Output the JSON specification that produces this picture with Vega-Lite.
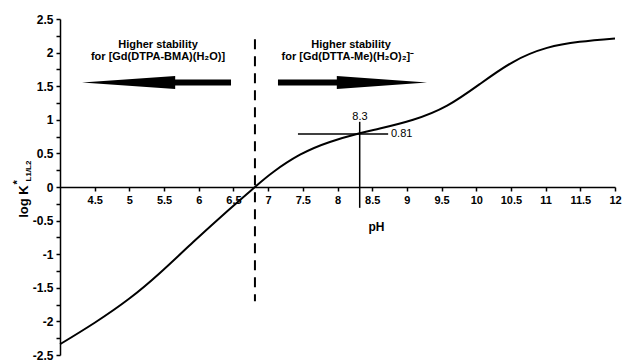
{
  "$schema": "https://vega.github.io/schema/vega-lite/v6.json",
  "autosize": "none",
  "width": 555,
  "height": 336,
  "padding": {"left": 60, "top": 19, "right": 7, "bottom": 9},
  "background": "white",
  "config": {
    "view": {"stroke": null},
    "font": "Liberation Sans"
  },
  "datasets": {
    "curve": [
      {"x": 4.0, "y": -2.34},
      {"x": 4.5, "y": -2.02},
      {"x": 5.0, "y": -1.66},
      {"x": 5.44, "y": -1.28},
      {"x": 5.92, "y": -0.82},
      {"x": 6.41, "y": -0.36},
      {"x": 6.81, "y": 0.0},
      {"x": 7.07, "y": 0.22},
      {"x": 7.46, "y": 0.48},
      {"x": 7.89, "y": 0.67},
      {"x": 8.32, "y": 0.8},
      {"x": 8.61, "y": 0.87},
      {"x": 9.09, "y": 1.0},
      {"x": 9.58, "y": 1.21},
      {"x": 10.05, "y": 1.53},
      {"x": 10.53, "y": 1.86},
      {"x": 11.02, "y": 2.07},
      {"x": 11.49, "y": 2.16},
      {"x": 12.0, "y": 2.21}
    ],
    "dashed": [{"x": 6.81, "y": 2.2, "y2": -1.7}],
    "vcross": [{"x": 8.32, "y": 0.97, "y2": -0.31}],
    "hcross": [{"x": 7.43, "x2": 8.73, "y": 0.79}],
    "shafts": [
      {"x": 5.6, "x2": 6.465, "y": 1.555},
      {"x": 7.142, "x2": 8.05, "y": 1.555}
    ],
    "heads": [
      {"arrow": "left", "x": 4.317, "y": 1.555, "y2": 1.555},
      {"arrow": "left", "x": 5.66, "y": 1.46, "y2": 1.65},
      {"arrow": "right", "x": 7.99, "y": 1.46, "y2": 1.65},
      {"arrow": "right", "x": 9.29, "y": 1.555, "y2": 1.555}
    ],
    "arrowText": [
      {"x": 5.413, "y": 2.113, "text": "Higher stability"},
      {"x": 5.413, "y": 1.935, "text": "for [Gd(DTPA-BMA)(H₂O)]"},
      {"x": 8.195, "y": 2.113, "text": "Higher stability"},
      {"x": 8.15, "y": 1.935, "text": "for [Gd(DTTA-Me)(H₂O)₂]⁻"}
    ],
    "lbl83": [{"x": 8.324, "y": 1.04, "text": "8.3"}],
    "lbl081": [{"x": 8.771, "y": 0.79, "text": "0.81"}],
    "star": [{"x": 3.395, "y": 0.07, "text": "*"}],
    "sub": [{"x": 3.553, "y": 0.238, "text": "L1/L2"}]
  },
  "encoding": {
    "x": {
      "field": "x", "type": "quantitative",
      "scale": {"domain": [4, 12], "nice": false, "zero": false},
      "axis": {
        "orient": "bottom", "offset": -168,
        "values": [4.5, 5, 5.5, 6, 6.5, 7, 7.5, 8, 8.5, 9, 9.5, 10, 10.5, 11, 11.5, 12],
        "format": ".1~f",
        "grid": false, "domain": true, "ticks": true,
        "domainColor": "black", "domainWidth": 1.5, "tickColor": "black", "tickWidth": 1.5, "tickSize": 4,
        "labelFont": "Liberation Sans", "labelFontWeight": "bold", "labelColor": "black", "labelPadding": 3,
        "labelFontSize": 11, "labelOverlap": false, "labelFlush": false,
        "title": "pH", "titleFont": "Liberation Sans", "titleFontWeight": "bold", "titleColor": "black", "titleFontSize": 12,
        "titleX": 316, "titleY": 39, "titleAlign": "center", "titleBaseline": "middle"
      }
    },
    "y": {
      "field": "y", "type": "quantitative",
      "scale": {"domain": [-2.5, 2.5], "nice": false, "zero": false},
      "axis": {
        "orient": "left",
        "values": [-2.5, -2.25, -2, -1.75, -1.5, -1.25, -1, -0.75, -0.5, -0.25, 0, 0.25, 0.5, 0.75, 1, 1.25, 1.5, 1.75, 2, 2.25, 2.5],
        "labelExpr": "datum.value % 0.5 == 0 ? replace(datum.label, '−', '-') : ''",
        "format": ".2~f",
        "grid": false, "domain": true, "ticks": true,
        "domainColor": "black", "domainWidth": 1.5, "tickColor": "black", "tickWidth": 1.5, "tickSize": 4,
        "labelFont": "Liberation Sans", "labelFontWeight": "bold", "labelColor": "black", "labelPadding": 3,
        "labelFontSize": 12, "labelOverlap": false, "labelFlush": false,
        "title": "log K", "titleFont": "Liberation Sans", "titleFontWeight": "bold", "titleColor": "black", "titleFontSize": 13,
        "titleAngle": 270, "titleX": -37, "titleY": 182,
        "titleAlign": "center", "titleBaseline": "middle"
      }
    }
  },
  "layer": [
    {
      "data": {"name": "curve"},
      "mark": {"type": "line", "color": "black", "strokeWidth": 2, "interpolate": "natural"}
    },
    {
      "data": {"name": "dashed"},
      "mark": {"type": "rule", "color": "black", "strokeWidth": 2, "strokeDash": [10, 7]},
      "encoding": {"y2": {"field": "y2"}}
    },
    {
      "data": {"name": "vcross"},
      "mark": {"type": "rule", "color": "black", "strokeWidth": 1.5},
      "encoding": {"y2": {"field": "y2"}}
    },
    {
      "data": {"name": "hcross"},
      "mark": {"type": "rule", "color": "black", "strokeWidth": 1.5},
      "encoding": {"x2": {"field": "x2"}}
    },
    {
      "data": {"name": "shafts"},
      "mark": {"type": "rule", "color": "black", "strokeWidth": 6, "strokeCap": "butt"},
      "encoding": {"x2": {"field": "x2"}}
    },
    {
      "data": {"name": "heads"},
      "mark": {"type": "area", "color": "black", "orient": "vertical"},
      "encoding": {
        "y2": {"field": "y2"},
        "detail": {"field": "arrow", "type": "nominal"}
      }
    },
    {
      "data": {"name": "arrowText"},
      "mark": {"type": "text", "font": "Liberation Sans", "fontWeight": "bold", "fontSize": 11, "color": "black", "align": "center", "baseline": "middle"},
      "encoding": {"text": {"field": "text"}}
    },
    {
      "data": {"name": "lbl83"},
      "mark": {"type": "text", "font": "Liberation Sans", "fontSize": 11, "color": "black", "align": "center", "baseline": "middle"},
      "encoding": {"text": {"field": "text"}}
    },
    {
      "data": {"name": "lbl081"},
      "mark": {"type": "text", "font": "Liberation Sans", "fontSize": 11, "color": "black", "align": "left", "baseline": "middle"},
      "encoding": {"text": {"field": "text"}}
    },
    {
      "data": {"name": "star"},
      "mark": {"type": "text", "font": "Liberation Sans", "fontWeight": "bold", "fontSize": 11, "color": "black", "align": "center", "baseline": "middle", "angle": 270},
      "encoding": {"text": {"field": "text"}}
    },
    {
      "data": {"name": "sub"},
      "mark": {"type": "text", "font": "Liberation Sans", "fontWeight": "bold", "fontSize": 8, "color": "black", "align": "center", "baseline": "middle", "angle": 270},
      "encoding": {"text": {"field": "text"}}
    }
  ]
}
